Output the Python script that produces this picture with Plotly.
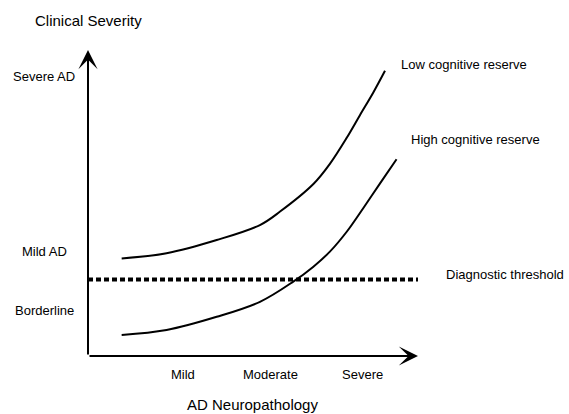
import plotly.graph_objects as go

# pathology (x) vs clinical severity (y), both on a 0-10 scale
low_reserve_x = [1.02, 2.38, 3.90, 5.21, 5.82, 6.83, 7.33, 7.84, 8.24, 8.65, 9.00]
low_reserve_y = [3.19, 3.36, 3.79, 4.28, 4.72, 5.62, 6.28, 7.13, 7.87, 8.62, 9.32]

high_reserve_x = [1.02, 2.38, 3.90, 5.21, 6.22, 6.83, 7.33, 7.84, 8.34, 8.85, 9.35]
high_reserve_y = [0.69, 0.85, 1.28, 1.77, 2.43, 2.92, 3.41, 4.06, 4.83, 5.64, 6.43]

threshold_x = [0, 10]
threshold_y = [2.5, 2.5]

x_tick_vals = [2.88, 5.52, 8.33]
x_tick_text = ["Mild", "Moderate", "Severe"]
y_tick_vals = [9.15, 3.40, 1.50]
y_tick_text = ["Severe AD", "Mild AD", "Borderline"]

FONT = "Liberation Sans, Arial, Helvetica, sans-serif"

fig = go.Figure()

fig.add_trace(go.Scatter(
    x=low_reserve_x, y=low_reserve_y, mode="lines",
    line=dict(color="black", width=2, shape="spline", smoothing=1),
    showlegend=False, hoverinfo="skip"
))
fig.add_trace(go.Scatter(
    x=high_reserve_x, y=high_reserve_y, mode="lines",
    line=dict(color="black", width=2, shape="spline", smoothing=1),
    showlegend=False, hoverinfo="skip"
))
fig.add_trace(go.Scatter(
    x=threshold_x, y=threshold_y, mode="lines",
    line=dict(color="black", width=4, dash="5px,3px"),
    showlegend=False, hoverinfo="skip"
))

annotations = []

# axis arrows
for tip_x, tip_y in [(10, 0), (0, 10)]:
    annotations.append(dict(
        x=tip_x, y=tip_y, ax=0, ay=0, xref="x", yref="y",
        axref="x", ayref="y", text="", showarrow=True,
        arrowhead=3, arrowwidth=2, arrowsize=1.6, arrowcolor="black",
        standoff=0, startstandoff=0
    ))

for v, t in zip(x_tick_vals, x_tick_text):
    annotations.append(dict(x=v, y=-0.59, xref="x", yref="y", text=t,
                            showarrow=False, xanchor="center", yanchor="middle",
                            font=dict(size=13)))
for v, t in zip(y_tick_vals, y_tick_text):
    annotations.append(dict(x=-1.32, y=v, xref="x", yref="y", text=t,
                            showarrow=False, xanchor="center", yanchor="middle",
                            font=dict(size=13)))

annotations += [
    dict(x=0, y=10.95, text="Clinical Severity", font=dict(size=15),
         xanchor="center"),
    dict(x=4.97, y=-1.60, text="AD Neuropathology", font=dict(size=15),
         xanchor="center"),
    dict(x=9.42, y=9.51, text="Low cognitive reserve", font=dict(size=13),
         xanchor="left"),
    dict(x=9.73, y=7.09, text="High cognitive reserve", font=dict(size=13),
         xanchor="left"),
    dict(x=10.80, y=2.65, text="Diagnostic threshold", font=dict(size=13),
         xanchor="left"),
]
for a in annotations[-5:]:
    a.update(xref="x", yref="y", showarrow=False, yanchor="middle")

# axis ranges span the whole figure so labels outside the arrows stay visible
fig.update_layout(
    width=569, height=414,
    margin=dict(l=0, r=0, t=0, b=0),
    paper_bgcolor="white", plot_bgcolor="white",
    font=dict(family=FONT, color="black"),
    xaxis=dict(range=[-88 / 33, (569 - 88) / 33], visible=False,
               fixedrange=True),
    yaxis=dict(range=[(356 - 414) / 30.6, 356 / 30.6], visible=False,
               fixedrange=True),
    annotations=annotations,
    showlegend=False
)

fig.write_html("out.html", config={"displayModeBar": False},
               post_script="document.body.style.margin='0';")
